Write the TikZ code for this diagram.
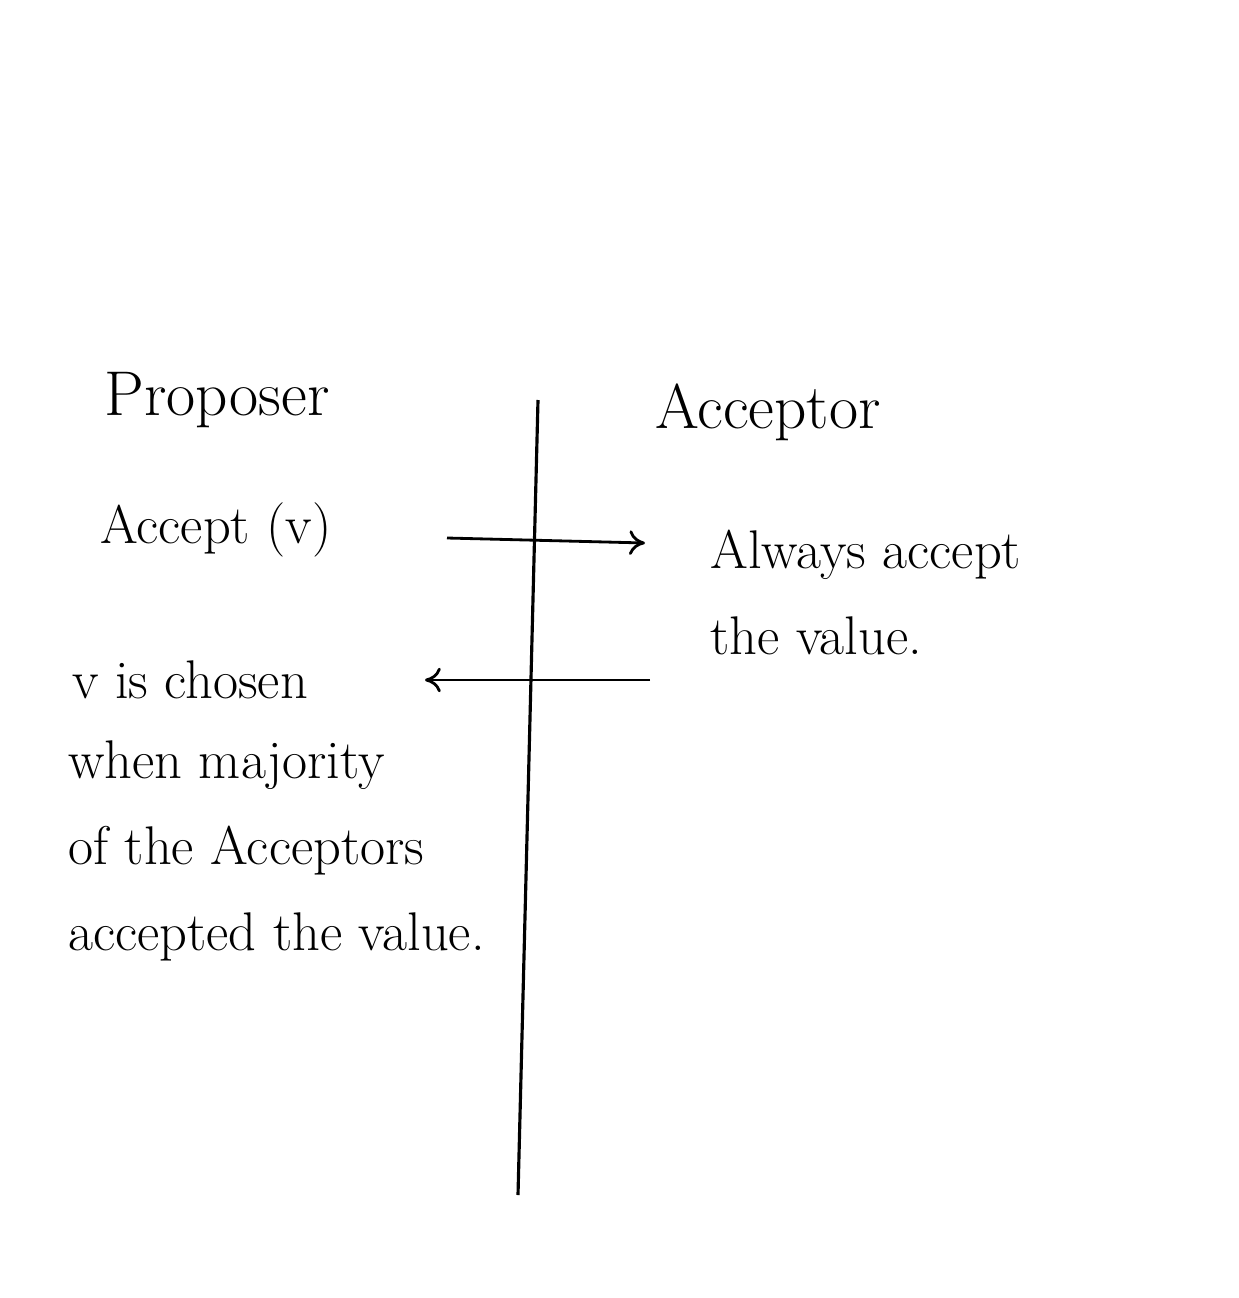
\documentclass[tikz,border=0pt]{standalone}
\usepackage{tikz}
\usetikzlibrary{positioning}
\usetikzlibrary{arrows.meta}

\tikzset{
  role/.style={font=\fontsize{36}{42}\selectfont, inner sep=0pt},
  note/.style={font=\fontsize{31}{49}\selectfont, inner sep=0pt, align=left},
  msg/.style={line width=1.6pt, -{To[length=9pt,width=14pt,line width=1.6pt]}},
  lifeline/.style={line width=1.8pt},
}

\begin{document}
\begin{tikzpicture}[x=0.02cm,y=-0.02cm]
  \useasboundingbox (0,0) rectangle (1239,1298);

  % the separating line
  \coordinate (top) at (538,400);
  \coordinate (bottom) at (518,1195);
  \draw[lifeline] (top) -- (bottom);

  \node[role] (proposer) at (217,400) {Proposer};
  \node[role] (acceptor) at (768,412) {Acceptor};

  \node[note, anchor=west] (accept) at (100,530) {Accept (v)};
  \node[note, anchor=north west] (always) at (710,530) {Always accept\\the value.};
  \node[note, anchor=west] (chosen) at (72,680) {v is chosen};
  \node[note, anchor=north west] (majority) at (68,740)
    {when majority\\of the Acceptors\\accepted the value.};

  \coordinate (reqstart) at (447,538);
  \coordinate (reqend) at (645,543);
  \coordinate (repstart) at (650,680);
  \coordinate (repend) at (425,680);

  \draw[msg] (reqstart) -- (reqend);
  \draw[msg] (repstart) -- (repend);
\end{tikzpicture}
\end{document}
